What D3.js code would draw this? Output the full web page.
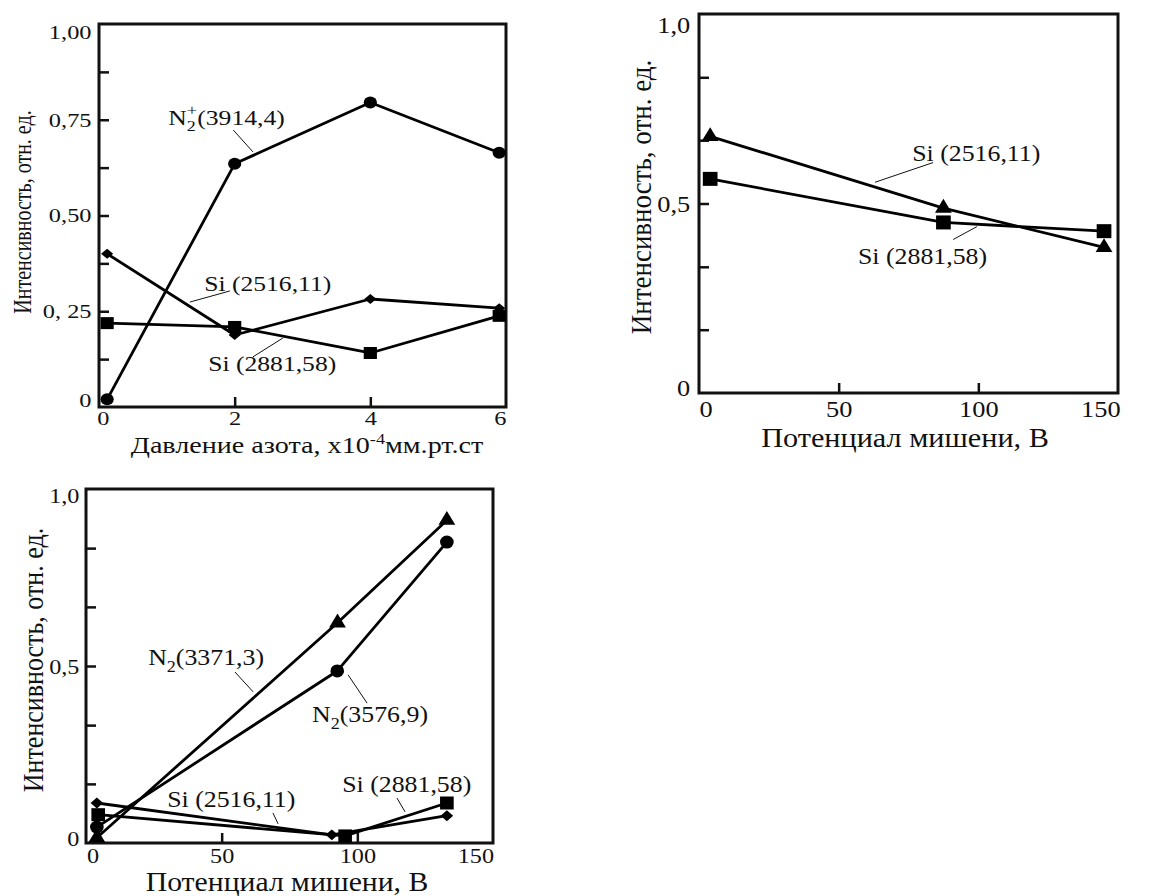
<!DOCTYPE html>
<html>
<head>
<meta charset="utf-8">
<script src="https://cdn.jsdelivr.net/npm/d3@7"></script>
<style>
  body { margin: 0; background: #fff; }
  svg { display: block; }
</style>
</head>
<body>
<svg id="chart" width="1157" height="896"></svg>
<script>
// panel A: intensity vs nitrogen pressure
const pressureA = [0.12, 2, 4, 5.9];
const n2Plus3914A = [0.02, 0.635, 0.795, 0.664];
const si2516A = [0.40, 0.188, 0.282, 0.258];
const si2881A = [0.219, 0.209, 0.141, 0.238];
const xTicksA = [0, 2, 4, 6];
const xTickLabelsA = ["0", "2", "4", "6"];
const xMinorA = [2, 4];
const yTicksA = [0, 0.25, 0.5, 0.75, 1];
const yTickLabelsA = ["0", "0, 25", "0,50", "0,75", "1,00"];
const yMinorA = [0.125, 0.25, 0.375, 0.5, 0.625, 0.75, 0.875];

// panel B: intensity vs target potential (Si lines)
const potentialB = [4, 87.5, 145];
const si2516B = [0.677, 0.488, 0.384];
const si2881B = [0.565, 0.45, 0.427];

// panel C: intensity vs target potential (N2 + Si lines)
const potN2_3371C = [4, 92.7, 133];
const n2_3371C = [0.015, 0.622, 0.912];
const potN2_3576C = [4, 92.6, 133];
const n2_3576C = [0.045, 0.486, 0.85];
const potSi2881C = [4.5, 95.5, 133];
const si2881C = [0.08, 0.02, 0.113];
const potSi2516C = [4, 90.6, 133];
const si2516C = [0.113, 0.023, 0.077];

const xTicksV = [0, 50, 100, 150];
const xTickLabelsV = ["0", "50", "100", "150"];
const xMinorV = [50, 100];
const yTicksV = [0, 0.5, 1];
const yTickLabelsV = ["0", "0,5", "1,0"];
const yMinorV = [0.167, 0.333, 0.5, 0.667, 0.833];

const yTitle = "Интенсивность, отн. ед.";
const xTitleV = "Потенциал мишени, В";

const font = '"Liberation Serif", "Times New Roman", Times, serif';
const ink = "#111";
const svg = d3.select("#chart");

function makePanel(cfg) {
    const x = d3.scaleLinear().domain(cfg.xDomain).range([cfg.left, cfg.right]);
    const y = d3.scaleLinear().domain([0, 1]).range([cfg.bottom, cfg.top]);
    const g = svg.append("g").attr("font-family", font);
    const p = Object.assign({}, cfg, { x, y, g });

    // inward tick marks
    g.append("g")
        .attr("transform", `translate(0,${cfg.bottom})`)
        .call(d3.axisBottom(x).tickValues(cfg.xMinor).tickSize(-10).tickFormat(""))
        .call(a => a.select(".domain").remove())
        .selectAll("line").attr("stroke", ink).attr("stroke-width", 2.5);
    g.append("g")
        .attr("transform", `translate(${cfg.left},0)`)
        .call(d3.axisLeft(y).tickValues(cfg.yMinor).tickSize(-10).tickFormat(""))
        .call(a => a.select(".domain").remove())
        .selectAll("line").attr("stroke", ink).attr("stroke-width", 2.5);

    // tick labels (end labels are pulled in a little, as in the original)
    const nx = cfg.xTicks.length, ny = cfg.yTicks.length;
    g.append("g")
        .attr("transform", `translate(0,${cfg.bottom})`)
        .call(d3.axisBottom(x).tickValues(cfg.xTicks).tickSize(0).tickPadding(cfg.xPad)
            .tickFormat((d, i) => cfg.xLabels[i]))
        .call(a => a.select(".domain").remove())
        .selectAll("text")
        .attr("font-family", font).attr("font-size", cfg.tickSize).attr("fill", ink)
        .attr("x", (d, i) => i === 0 ? cfg.xNudge[0] : i === nx - 1 ? cfg.xNudge[1] : 0)
        .attr("transform", `scale(${cfg.sx},1)`);
    g.append("g")
        .attr("transform", `translate(${cfg.left},0)`)
        .call(d3.axisLeft(y).tickValues(cfg.yTicks).tickSize(0).tickPadding(cfg.yPad)
            .tickFormat((d, i) => cfg.yLabels[i]))
        .call(a => a.select(".domain").remove())
        .selectAll("text")
        .attr("font-family", font).attr("font-size", cfg.tickSize).attr("fill", ink)
        .attr("y", (d, i) => i === 0 ? cfg.yNudge[0] : i === ny - 1 ? cfg.yNudge[1] : 0)
        .attr("transform", `scale(${cfg.sx},1)`);

    // frame
    g.append("rect")
        .attr("x", cfg.left).attr("y", cfg.top)
        .attr("width", cfg.right - cfg.left).attr("height", cfg.bottom - cfg.top)
        .attr("fill", "none").attr("stroke", ink).attr("stroke-width", 3);

    // axis titles
    g.append("text")
        .attr("transform", `translate(${cfg.yTitlePos[0]},${cfg.yTitlePos[1]}) rotate(-90) scale(1,${cfg.sx})`)
        .attr("text-anchor", "middle").attr("dy", "0.35em")
        .attr("font-size", cfg.yTitleSize).attr("fill", ink)
        .text(yTitle);
    const xt = g.append("text")
        .attr("transform", `translate(${cfg.xTitlePos[0]},${cfg.xTitlePos[1]}) scale(${cfg.sx},1)`)
        .attr("text-anchor", "middle").attr("dy", "0.35em")
        .attr("font-size", cfg.xTitleSize).attr("fill", ink);
    addParts(xt, cfg.xTitle, cfg.xTitleSize);
    return p;
}

function addParts(t, parts, size) {
    parts.forEach(part => {
        const s = t.append("tspan").text(part.t);
        if (part.size) s.attr("font-size", part.size * size);
        if (part.dx) s.attr("dx", part.dx * size);
        if (part.dy) s.attr("dy", part.dy * size);
    });
}

function markerPath(kind, s) {
    if (kind === "circle") return d3.symbol(d3.symbolCircle, s * s * 0.785)();
    if (kind === "square") return d3.symbol(d3.symbolSquare, s * s)();
    if (kind === "triangle") return d3.symbol(d3.symbolTriangle, s * s * 0.433)();
    const w = s / 2, h = s * 0.45;
    return `M0,${-h}L${w},0L0,${h}L${-w},0Z`;
}

function drawSeries(p, xs, ys, kind, size) {
    const pts = xs.map((v, i) => [v, ys[i]]);
    p.g.append("path")
        .datum(pts)
        .attr("fill", "none").attr("stroke", "#000").attr("stroke-width", 2.8)
        .attr("stroke-linejoin", "round")
        .attr("d", d3.line().x(d => p.x(d[0])).y(d => p.y(d[1])));
    p.g.selectAll(null)
        .data(pts)
        .join("path")
        .attr("transform", d => `translate(${p.x(d[0])},${p.y(d[1])}) scale(${p.markSx},1)`)
        .attr("d", markerPath(kind, size))
        .attr("fill", "#000");
}

function annotate(p, parts, ax, ay, leader) {
    const t = p.g.append("text")
        .attr("transform", `translate(${p.x(ax)},${p.y(ay)}) scale(${p.sx},1)`)
        .attr("font-size", p.labelSize).attr("fill", ink);
    addParts(t, parts, p.labelSize);
    p.g.append("line")
        .attr("x1", p.x(leader[0])).attr("y1", p.y(leader[1]))
        .attr("x2", p.x(leader[2])).attr("y2", p.y(leader[3]))
        .attr("stroke", ink).attr("stroke-width", 1);
}

// ---------- panel A ----------
const pA = makePanel({
    left: 99, right: 506, top: 24, bottom: 407,
    xDomain: [0, 6],
    xTicks: xTicksA, xLabels: xTickLabelsA, xMinor: xMinorA,
    yTicks: yTicksA, yLabels: yTickLabelsA, yMinor: yMinorA,
    xPad: 4, yPad: 6, sx: 1.25, markSx: 1.1,
    xNudge: [3, -5], yNudge: [-7, 8],
    tickSize: 19.5, yTitleSize: 20, xTitleSize: 22.5, labelSize: 20.5,
    yTitlePos: [22, 212], xTitlePos: [307, 445],
    xTitle: [{ t: "Давление азота, x10" }, { t: "-4", size: 0.65, dy: -0.4 }, { t: "мм.рт.ст", dy: 0.4 }]
});
drawSeries(pA, pressureA, si2516A, "diamond", 11);
drawSeries(pA, pressureA, si2881A, "square", 12);
drawSeries(pA, pressureA, n2Plus3914A, "circle", 12);
annotate(pA, [{ t: "N" }, { t: "2", size: 0.7, dy: 0.3 }, { t: "+", size: 0.75, dx: -0.36, dy: -0.8 }, { t: "(3914,4)", dy: 0.5 }],
    1.02, 0.736, [1.98, 0.723, 2.27, 0.666]);
annotate(pA, [{ t: "Si (2516,11)" }], 1.55, 0.303, [1.34, 0.274, 1.93, 0.303]);
annotate(pA, [{ t: "Si (2881,58)" }], 1.61, 0.094, [2.27, 0.131, 2.71, 0.180]);

// ---------- panel B ----------
const pB = makePanel({
    left: 699, right: 1118, top: 14, bottom: 393,
    xDomain: [0, 150],
    xTicks: xTicksV, xLabels: xTickLabelsV, xMinor: xMinorV,
    yTicks: yTicksV, yLabels: yTickLabelsV, yMinor: yMinorV,
    xPad: 7, yPad: 8, sx: 1.1, markSx: 1.05,
    xNudge: [6, -16], yNudge: [-5, 11],
    tickSize: 24, yTitleSize: 27, xTitleSize: 27.5, labelSize: 23.5,
    yTitlePos: [641, 197], xTitlePos: [905, 437],
    xTitle: [{ t: xTitleV }]
});
drawSeries(pB, potentialB, si2881B, "square", 14);
drawSeries(pB, potentialB, si2516B, "triangle", 16);
annotate(pB, [{ t: "Si (2516,11)" }], 76.3, 0.611, [63, 0.556, 83.8, 0.608]);
annotate(pB, [{ t: "Si (2881,58)" }], 56.9, 0.341, [91, 0.405, 99.5, 0.439]);

// ---------- panel C ----------
const pC = makePanel({
    left: 86, right: 493, top: 489, bottom: 843,
    xDomain: [0, 150],
    xTicks: xTicksV, xLabels: xTickLabelsV, xMinor: xMinorV,
    yTicks: yTicksV, yLabels: yTickLabelsV, yMinor: yMinorV,
    xPad: 4, yPad: 6, sx: 1.1, markSx: 1.05,
    xNudge: [6, -16], yNudge: [-5, 6],
    tickSize: 22, yTitleSize: 26, xTitleSize: 27, labelSize: 23.5,
    yTitlePos: [33, 660], xTitlePos: [287, 882],
    xTitle: [{ t: xTitleV }]
});
drawSeries(pC, potSi2516C, si2516C, "diamond", 12);
drawSeries(pC, potSi2881C, si2881C, "square", 13);
drawSeries(pC, potN2_3576C, n2_3576C, "circle", 13);
drawSeries(pC, potN2_3371C, n2_3371C, "triangle", 16);
annotate(pC, [{ t: "N" }, { t: "2", size: 0.7, dy: 0.3 }, { t: "(3371,3)", dy: -0.3 }], 22.9, 0.503, [54.9, 0.483, 61.6, 0.427]);
annotate(pC, [{ t: "N" }, { t: "2", size: 0.7, dy: 0.3 }, { t: "(3576,9)", dy: -0.3 }], 83.3, 0.342, [96.6, 0.475, 103.6, 0.395]);
annotate(pC, [{ t: "Si (2516,11)" }], 29.9, 0.102, [68.9, 0.085, 70.8, 0.054]);
annotate(pC, [{ t: "Si (2881,58)" }], 94.4, 0.144, [114.6, 0.127, 117.6, 0.088]);
</script>
</body>
</html>
